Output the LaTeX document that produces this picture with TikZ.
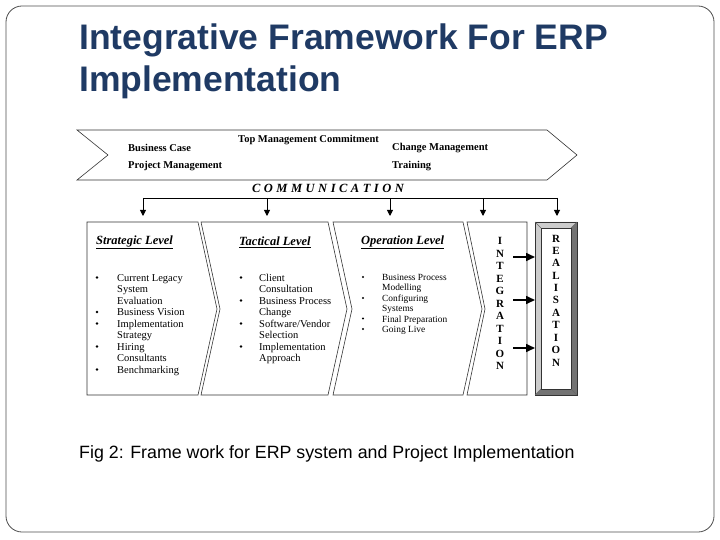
\documentclass[tikz,border=0pt]{standalone}
\usepackage{fontspec}
\setmainfont{Liberation Serif}
\newfontfamily\titlefont{Liberation Sans}
\usetikzlibrary{arrows.meta}
\definecolor{titleblue}{HTML}{1F3A64}
\tikzset{
  outl/.style={draw=black!80, line width=0.6pt},
  bantext/.style={anchor=west, font=\fontsize{10.5}{12}\selectfont\bfseries, inner sep=0pt},
  head/.style={anchor=west, font=\fontsize{12.5}{13}\selectfont\bfseries\itshape, inner sep=0pt},
  item/.style={anchor=north west, font=\fontsize{10.5}{11.5}\selectfont, inner sep=0pt, align=left},
  itemsm/.style={anchor=north west, font=\fontsize{9.4}{10.4}\selectfont, inner sep=0pt, align=left},
  letter/.style={font=\fontsize{11}{12}\selectfont\bfseries, inner sep=0pt},
  dn/.style={-{Triangle[length=6pt,width=6pt]}, line width=0.9pt},
  rt/.style={-{Triangle[length=9pt,width=8pt]}, line width=1.6pt},
}
\begin{document}
\begin{tikzpicture}[x=1pt,y=-1pt]
\useasboundingbox (0,0) rectangle (720,540);
\draw[black!70, line width=0.8pt, rounded corners=16pt] (6,6) rectangle (714,532);
\node[anchor=north west, align=left, text=titleblue, inner sep=0pt,
  font=\titlefont\fontsize{35.5}{42}\selectfont\bfseries] (title) at (79,24) {Integrative Framework For ERP\\Implementation};
% banner
\draw[outl] (77,130) -- (547,130) -- (577,155) -- (547,180) -- (77,180) -- (108,155) -- cycle;
\node[bantext] (bc) at (128,148) {Business Case};
\node[bantext] (pm) at (128,166) {Project Management};
\node[bantext] (tmc) at (238,140) {Top Management Commitment};
\node[bantext] (cm) at (392,148) {Change Management};
\node[bantext] (tr) at (392,166) {Training};
\node[font=\fontsize{12.5}{13}\selectfont\bfseries\itshape, inner sep=0pt] (comm) at (328,188) {C\hspace{3.5pt}O\hspace{3.5pt}M\hspace{3.5pt}M\hspace{3.5pt}U\hspace{3.5pt}N\hspace{3.5pt}I\hspace{3.5pt}C\hspace{3.5pt}A\hspace{3.5pt}T\hspace{3.5pt}I\hspace{3.5pt}O\hspace{3.5pt}N};
% distribution line
\coordinate (l1) at (143,198); \coordinate (l5) at (557,198);
\draw[line width=0.9pt] (l1) -- (l5);
\foreach \x/\n in {143/a,267/b,390/c,483/d,557/e}{
  \coordinate (s\n) at (\x,198); \coordinate (t\n) at (\x,216);
  \draw[dn] (s\n) -- (t\n);
}
% chevrons
\draw[outl] (87,222) -- (198,222) -- (217,309) -- (198,395) -- (87,395) -- cycle;
\draw[outl] (201,222) -- (328,222) -- (347,309) -- (328,395) -- (201,395) -- (220,309) -- cycle;
\draw[outl] (333,222) -- (463,222) -- (482,309) -- (463,395) -- (333,395) -- (352,309) -- cycle;
\draw[outl] (467,222) -- (527,222) -- (527,395) -- (467,395) -- (485,309) -- cycle;
% realisation box (bevelled)
\fill[black!55] (535,222) rectangle (577,395);
\fill[black!20] (535,222) -- (577,222) -- (571,228) -- (541,228) -- (541,389) -- (535,395) -- cycle;
\draw[black!80, fill=white] (541,228) rectangle (571,389);
\draw[black!80] (535,222) rectangle (577,395);
\draw[black!60] (535,222) -- (541,228) (577,222) -- (571,228) (535,395) -- (541,389) (577,395) -- (571,389);
% arrows integration -> realisation
\foreach \y/\n in {257/1,300/2,348/3}{
  \coordinate (ia\n) at (513,\y); \coordinate (ib\n) at (535,\y);
  \draw[rt] (ia\n) -- (ib\n);
}
% headings
\node[head] (h1) at (96,242) {\underline{Strategic Level}};
\node[head] (h2) at (239,242) {\underline{Tactical Level}};
\node[head] (h3) at (361,242) {\underline{Operation Level}};
% bullets
\foreach \y in {277.5,312,323.5,346.5,369.5}{\fill (97,\y) circle (1.4);}
\node[item] (i1) at (117,274) {Current Legacy\\System\\Evaluation\\Business Vision\\Implementation\\Strategy\\Hiring\\Consultants\\Benchmarking};
\foreach \y in {277.5,300.5,323.5,346.5}{\fill (241,\y) circle (1.4);}
\node[item] (i2) at (259,274) {Client\\Consultation\\Business Process\\Change\\Software/Vendor\\Selection\\Implementation\\Approach};
\foreach \y in {277,298,318.5,329}{\fill (363,\y) circle (1.1);}
\node[itemsm] (i3) at (382,274) {Business Process\\Modelling\\Configuring\\Systems\\Final Preparation\\Going Live};
% vertical words
\foreach [count=\i] \l in {I,N,T,E,G,R,A,T,I,O,N}{
  \node[letter] (g\i) at (500,228.5+12.5*\i) {\l};
}
\foreach [count=\i] \l in {R,E,A,L,I,S,A,T,I,O,N}{
  \node[letter] (r\i) at (556,226+12.4*\i) {\l};
}
\node[anchor=west, inner sep=0pt, font=\titlefont\fontsize{17.8}{20}\selectfont] (cap) at (79,454) {Fig 2: Frame work for ERP system and Project Implementation};
\end{tikzpicture}
\end{document}
